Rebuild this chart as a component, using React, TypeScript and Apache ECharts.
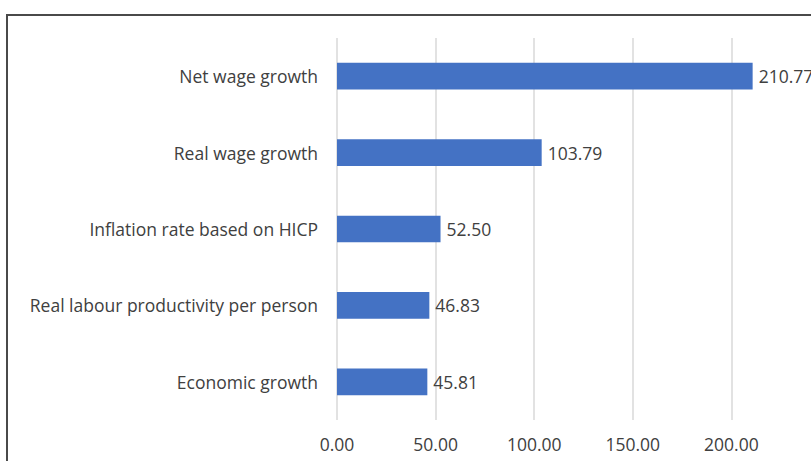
import React, { useEffect, useRef } from "react";
import * as echarts from "echarts";

const categories = [
  "Net wage growth",
  "Real wage growth",
  "Inflation rate based on HICP",
  "Real labour productivity per person",
  "Economic growth",
];
const values = [210.77, 103.79, 52.5, 46.83, 45.81];
const axisMax = 250;
const axisInterval = 50;

export default function App() {
  const ref = useRef<HTMLDivElement>(null);
  useEffect(() => {
    if (!ref.current) return;
    const chart = echarts.init(ref.current, null, { renderer: "svg" });
    const font = "'Open Sans', sans-serif";
    chart.setOption({
      animation: false,
      backgroundColor: "#ffffff",
      graphic: [
        {
          type: "rect",
          shape: { x: 7, y: 15, width: 900, height: 500 },
          style: { fill: "none", stroke: "#4a4a4a", lineWidth: 2 },
          silent: true,
        },
      ],
      grid: { left: 337, top: 38, height: 382, right: 0, containLabel: false },
      xAxis: {
        type: "value",
        min: 0,
        max: axisMax,
        interval: axisInterval,
        axisLine: { show: false },
        axisTick: { show: false },
        splitLine: { show: true, lineStyle: { color: "#d9d9d9", width: 1.5 } },
        axisLabel: {
          margin: 15,
          color: "#404040",
          fontFamily: font,
          fontSize: 17.5,
          showMaxLabel: false,
          formatter: (v: number) => v.toFixed(2),
        },
      },
      yAxis: {
        type: "category",
        data: categories,
        inverse: true,
        axisLine: { show: false },
        axisTick: { show: false },
        axisLabel: { margin: 19, color: "#404040", fontFamily: font, fontSize: 17.5 },
      },
      series: [
        {
          type: "bar",
          data: values,
          barWidth: "35%",
          itemStyle: { color: "#4472C4" },
          label: {
            show: true,
            position: "right",
            distance: 6,
            color: "#404040",
            fontFamily: font,
            fontSize: 17.5,
            formatter: (p: any) => Number(p.value).toFixed(2),
          },
        },
      ],
    });
    return () => chart.dispose();
  }, []);
  return (
    <div
      ref={ref}
      style={{ position: "fixed", left: 0, top: 0, width: 830, height: 461 }}
    />
  );
}
